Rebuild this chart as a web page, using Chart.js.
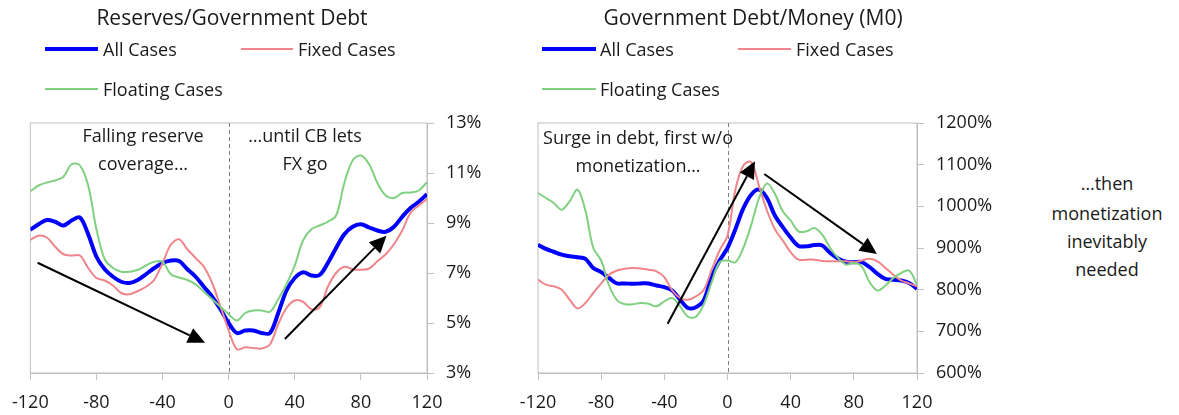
<!DOCTYPE html>
<html>
<head>
<meta charset="utf-8">
<script src="https://cdn.jsdelivr.net/npm/chart.js@4.4.0/dist/chart.umd.min.js"></script>
<style>
  body { margin: 0; background: #fff; width: 1179px; height: 415px; position: relative; overflow: hidden;
         font-family: "Open Sans", sans-serif; color: #1a1a1a; }
  canvas { position: absolute; top: 0; }
  .txt { position: absolute; font-size: 18px; white-space: nowrap; line-height: 1; }
  .ttl { font-size: 21px; }
  .c { transform: translate(-50%, -50%); }
  .l { transform: translateY(-50%); }
  .key { position: absolute; height: 0; }
</style>
</head>
<body>
<canvas id="left" style="left:0" width="495" height="415"></canvas>
<canvas id="right" style="left:500px" width="510" height="415"></canvas>

<div class="txt ttl c" style="left:232px;top:17px">Reserves/Government Debt</div>
<div class="key" style="left:45px;top:47px;width:53px;border-top:4px solid #0000ff"></div>
<div class="txt l" style="left:103px;top:49px">All Cases</div>
<div class="key" style="left:241px;top:48px;width:52px;border-top:2px solid #ef858a"></div>
<div class="txt l" style="left:298px;top:49px">Fixed Cases</div>
<div class="key" style="left:45px;top:88px;width:53px;border-top:2px solid #7fd07f"></div>
<div class="txt l" style="left:103px;top:89px">Floating Cases</div>

<div class="txt ttl c" style="left:753px;top:17px">Government Debt/Money (M0)</div>
<div class="key" style="left:542px;top:47px;width:54px;border-top:4px solid #0000ff"></div>
<div class="txt l" style="left:600px;top:49px">All Cases</div>
<div class="key" style="left:738px;top:48px;width:53px;border-top:2px solid #ef858a"></div>
<div class="txt l" style="left:796px;top:49px">Fixed Cases</div>
<div class="key" style="left:542px;top:88px;width:54px;border-top:2px solid #7fd07f"></div>
<div class="txt l" style="left:600px;top:89px">Floating Cases</div>

<div class="txt c" style="left:143px;top:135px">Falling reserve</div>
<div class="txt c" style="left:143px;top:163px">coverage…</div>
<div class="txt c" style="left:305px;top:135px">…until CB lets</div>
<div class="txt c" style="left:305px;top:163px">FX go</div>
<div class="txt c" style="left:638px;top:137px">Surge in debt, first w/o</div>
<div class="txt c" style="left:638px;top:165px">monetization…</div>
<div class="txt c" style="left:1107px;top:183px">…then</div>
<div class="txt c" style="left:1107px;top:213px">monetization</div>
<div class="txt c" style="left:1107px;top:241px">inevitably</div>
<div class="txt c" style="left:1107px;top:269px">needed</div>

<script>
// months relative to the event (x axis)
const months = [-120, -115, -110, -105, -100, -95, -90, -85, -80, -75, -70, -65, -60, -55, -50, -45, -40,
  -35, -30, -25, -20, -15, -10, -5, 0, 5, 10, 15, 20, 25, 30, 35, 40, 45, 50, 55, 60, 65, 70, 75, 80,
  85, 90, 95, 100, 105, 110, 115, 120];
const xTicks = [-120, -80, -40, 0, 40, 80, 120];

// Reserves / Government Debt (%)
const resAll = [8.73, 8.95, 9.12, 9.05, 8.9, 9.1, 9.22, 8.55, 7.65, 7.15, 6.85, 6.65, 6.6, 6.72, 6.95, 7.2, 7.4,
  7.5, 7.48, 7.15, 6.85, 6.45, 6.05, 5.55, 5.0, 4.6, 4.7, 4.7, 4.6, 4.6, 5.4, 6.3, 6.8, 7.03, 6.9, 6.92, 7.4,
  8.0, 8.55, 8.85, 8.95, 8.82, 8.7, 8.65, 8.85, 9.25, 9.6, 9.85, 10.15];
const resFixed = [8.33, 8.49, 8.42, 8.05, 7.75, 7.7, 7.7, 7.2, 6.8, 6.7, 6.5, 6.2, 6.15, 6.28, 6.45, 6.73, 7.4,
  8.13, 8.35, 7.95, 7.6, 7.25, 6.6, 5.67, 4.7, 3.95, 4.03, 4.0, 3.98, 4.15, 4.95, 5.6, 5.9, 5.85, 5.55, 5.62,
  6.45, 7.0, 7.25, 7.15, 7.13, 7.18, 7.47, 7.75, 8.15, 8.7, 9.4, 9.7, 9.96];
const resFloat = [10.27, 10.5, 10.62, 10.7, 10.85, 11.35, 11.3, 10.5, 8.75, 7.55, 7.2, 7.05, 7.05, 7.13, 7.3,
  7.45, 7.45, 6.95, 6.82, 6.72, 6.55, 6.25, 5.95, 5.65, 5.35, 5.1, 5.4, 5.5, 5.5, 5.45, 5.95, 6.55, 7.3, 8.3,
  8.75, 8.9, 9.05, 9.3, 10.6, 11.5, 11.7, 11.35, 10.6, 10.1, 10.0, 10.2, 10.22, 10.3, 10.63];
const resTicks = [3, 5, 7, 9, 11, 13];

// Government Debt / Money M0 (%)
const debtAll = [908, 898, 891, 884, 880, 878, 874, 852, 842, 828, 815, 815, 814, 815, 815, 810, 806, 798, 776,
  756, 758, 775, 832, 870, 900, 945, 995, 1028, 1040, 1020, 978, 950, 925, 905, 904, 907, 906, 888, 875, 867,
  866, 866, 854, 838, 826, 824, 822, 816, 802];
const debtFixed = [824, 812, 808, 800, 776, 755, 768, 792, 815, 836, 846, 850, 852, 851, 848, 844, 830, 798, 780,
  776, 784, 800, 848, 894, 930, 1040, 1098, 1106, 1048, 990, 945, 918, 890, 872, 872, 872, 869, 868, 868, 868,
  866, 870, 874, 868, 852, 836, 822, 815, 808];
const debtFloat = [1032, 1020, 1008, 992, 1012, 1040, 990, 900, 870, 810, 775, 765, 765, 768, 766, 760, 772, 780,
  760, 735, 735, 765, 818, 866, 870, 866, 900, 955, 1020, 1055, 1030, 988, 966, 940, 940, 948, 932, 900, 876,
  860, 864, 856, 818, 798, 810, 828, 840, 846, 812];
const debtTicks = [600, 700, 800, 900, 1000, 1100, 1200];

// annotation arrows, in data units: [fromX, fromY, toX, toY]
const resArrows = [[-115.6, 7.41, -14.3, 4.21], [34, 4.36, 95.5, 8.49]];
const debtArrows = [[-37.9, 718, 17.4, 1108], [23.3, 1077.6, 94.6, 885.6]];

const BLUE = '#0000ff', RED = '#ef858a', GREEN = '#7fd07f', AXIS = '#bfbfbf';

const overlay = {
  id: 'overlay',
  beforeDatasetsDraw(chart) {
    const { ctx, chartArea: a, scales: { x } } = chart;
    ctx.save();
    ctx.strokeStyle = AXIS;
    ctx.lineWidth = 1;
    ctx.strokeRect(a.left, a.top, a.right - a.left, a.bottom - a.top);
    const zx = Math.round(x.getPixelForValue(0)) + 0.5;
    ctx.strokeStyle = '#7f7f7f';
    ctx.setLineDash([4, 3]);
    ctx.beginPath();
    ctx.moveTo(zx, a.top);
    ctx.lineTo(zx, a.bottom);
    ctx.stroke();
    ctx.restore();
  },
  afterDatasetsDraw(chart, args, opts) {
    const { ctx, scales: { x, y } } = chart;
    ctx.save();
    ctx.strokeStyle = '#000';
    ctx.fillStyle = '#000';
    ctx.lineWidth = 2;
    (opts.arrows || []).forEach(([x0, y0, x1, y1]) => {
      const px0 = x.getPixelForValue(x0), py0 = y.getPixelForValue(y0);
      const px1 = x.getPixelForValue(x1), py1 = y.getPixelForValue(y1);
      const ang = Math.atan2(py1 - py0, px1 - px0);
      const len = 17, half = 8;
      const bx = px1 - len * Math.cos(ang), by = py1 - len * Math.sin(ang);
      ctx.beginPath();
      ctx.moveTo(px0, py0);
      ctx.lineTo(bx, by);
      ctx.stroke();
      ctx.beginPath();
      ctx.moveTo(px1, py1);
      ctx.lineTo(bx + half * Math.sin(ang), by - half * Math.cos(ang));
      ctx.lineTo(bx - half * Math.sin(ang), by + half * Math.cos(ang));
      ctx.closePath();
      ctx.fill();
    });
    ctx.restore();
  }
};

function series(label, values, color, width) {
  return {
    label,
    data: months.map((m, i) => ({ x: m, y: values[i] })),
    borderColor: color,
    borderWidth: width,
    pointRadius: 0,
    tension: 0.35,
    fill: false,
  };
}

function makePanel(id, sets, yMin, yMax, yTicks, pad, yWidth, arrows) {
  const tickFont = { family: 'Open Sans', size: 18 };
  return new Chart(document.getElementById(id), {
    type: 'line',
    data: { datasets: sets },
    options: {
      responsive: false,
      animation: false,
      layout: { padding: pad },
      plugins: { legend: { display: false }, tooltip: { enabled: false }, overlay: { arrows } },
      scales: {
        x: {
          type: 'linear', min: -120, max: 120,
          afterBuildTicks: s => { s.ticks = xTicks.map(v => ({ value: v })); },
          afterFit: s => { s.height = 40; },
          grid: { drawOnChartArea: false, color: AXIS, tickLength: 7 },
          border: { color: AXIS },
          ticks: { font: tickFont, color: '#1a1a1a', padding: 12, maxRotation: 0 },
        },
        y: {
          position: 'right', min: yMin, max: yMax,
          afterBuildTicks: s => { s.ticks = yTicks.map(v => ({ value: v })); },
          afterFit: s => { s.width = yWidth; },
          grid: { drawOnChartArea: false, color: AXIS, tickLength: 7 },
          border: { color: AXIS },
          ticks: { font: tickFont, color: '#1a1a1a', padding: 12, callback: v => v + '%' },
        },
      },
    },
    plugins: [overlay],
  });
}

// draw green and red first, blue on top
makePanel('left', [
  series('Floating Cases', resFloat, GREEN, 2),
  series('Fixed Cases', resFixed, RED, 2),
  series('All Cases', resAll, BLUE, 4),
], 3, 13, resTicks, { left: 28, top: 123, right: 0, bottom: 2 }, 68, resArrows);

makePanel('right', [
  series('Floating Cases', debtFloat, GREEN, 2),
  series('Fixed Cases', debtFixed, RED, 2),
  series('All Cases', debtAll, BLUE, 4),
], 600, 1200, debtTicks, { left: 38, top: 123, right: 0, bottom: 2 }, 93, debtArrows);
</script>
</body>
</html>
